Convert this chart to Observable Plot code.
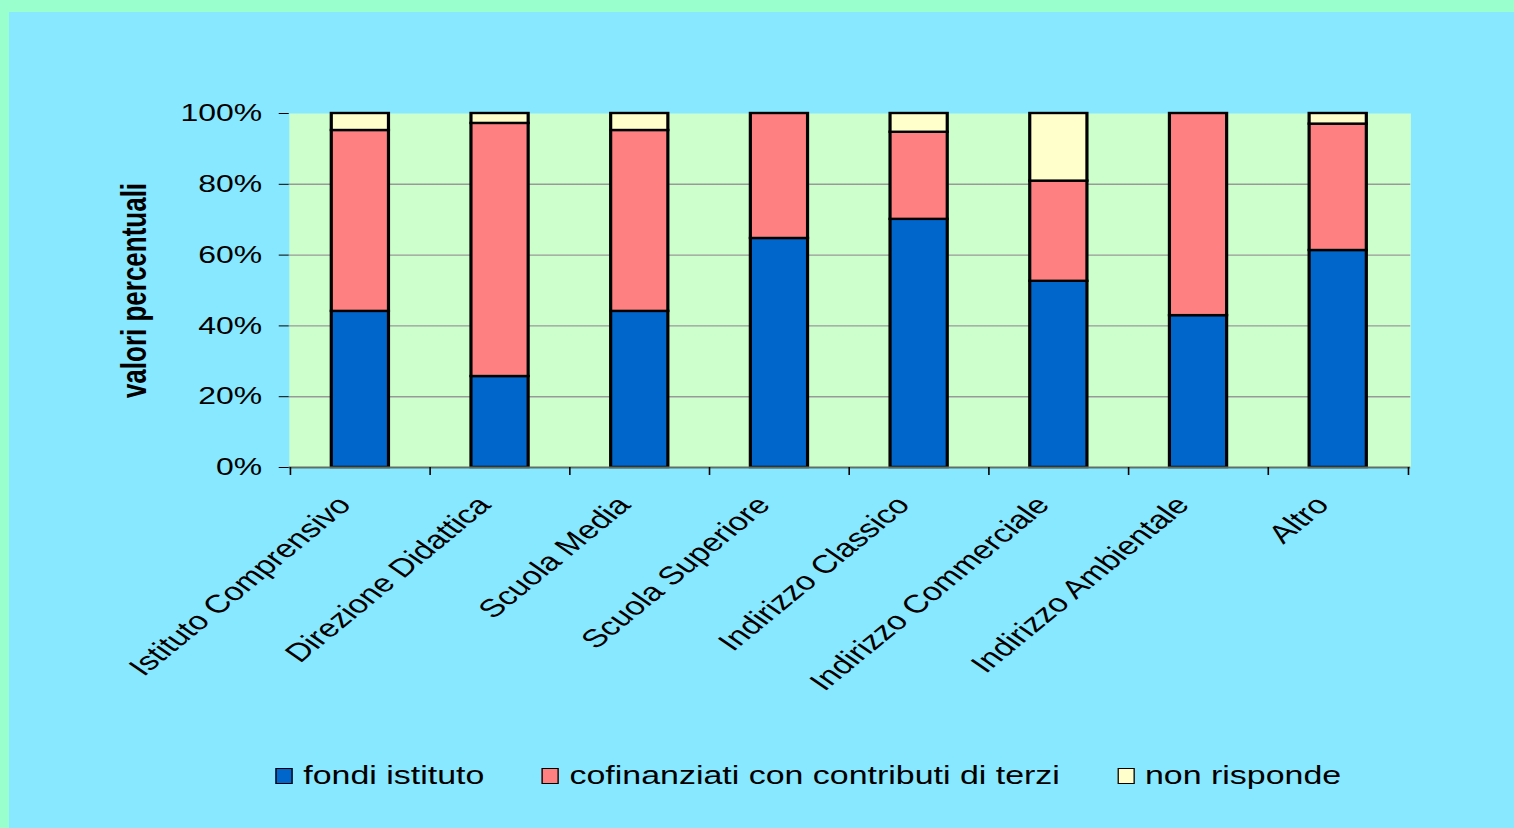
<!DOCTYPE html>
<html><head><meta charset="utf-8">
<script src="https://cdn.jsdelivr.net/npm/d3@7"></script>
<script src="https://cdn.jsdelivr.net/npm/@observablehq/plot@0.6"></script>
<style>
html,body{margin:0;padding:0;background:#99FFCC;width:1514px;height:828px;overflow:hidden;}
#panel{position:absolute;left:9px;top:12px;width:1505px;height:816px;background:#88E8FF;}
#stage{position:absolute;left:0;top:0;width:1138px;height:828px;transform:scaleX(1.3304);transform-origin:0 0;font-family:"Liberation Sans",Arial,sans-serif;}
#chart{position:absolute;left:0;top:0;}
#legend{position:absolute;left:207px;top:761px;display:flex;align-items:center;font-size:25.5px;color:#000;white-space:nowrap;}
.item{display:flex;align-items:center;}
.sw{width:11px;height:14px;border:1.5px solid #000;margin-right:8px;}
</style></head>
<body>
<div id="panel"></div>
<div id="stage"><div id="chart"></div><div id="legend"></div></div>
<script>
const categories = ["Istituto Comprensivo","Direzione Didattica","Scuola Media","Scuola Superiore","Indirizzo Classico","Indirizzo Commerciale","Indirizzo Ambientale","Altro"];
const series = ["fondi istituto","cofinanziati con contributi di terzi","non risponde"];
const fondiIstituto = [44.1, 25.7, 44.1, 64.7, 70.1, 52.6, 42.9, 61.3];
const cofinanziati = [51.1, 71.5, 51.1, 35.3, 24.6, 28.3, 57.1, 35.7];
const nonRisponde = [4.8, 2.8, 4.8, 0, 5.3, 19.1, 0, 3.0];
const yTicks = [0, 20, 40, 60, 80, 100];
const colors = ["#0066CC", "#FF8080", "#FFFFCC"];

const values = [fondiIstituto, cofinanziati, nonRisponde];
const data = [];
series.forEach((s, i) => categories.forEach((c, j) => {
  if (values[i][j] > 0) data.push({categoria: c, serie: s, valore: values[i][j]});
}));

const W = 1138, H = 740, ml = 217, mr = 78, mt = 113, mb = 273;
const step = (W - ml - mr) / categories.length;

const chart = Plot.plot({
  width: W, height: H,
  marginLeft: ml, marginRight: mr, marginTop: mt, marginBottom: mb,
  style: {background: "transparent", fontFamily: "'Liberation Sans', Arial, sans-serif", fontSize: "24px", color: "#000", overflow: "visible"},
  x: {domain: categories, paddingInner: 0.586, paddingOuter: 0.293, label: null},
  y: {domain: [0, 100], label: null},
  color: {domain: series, range: colors},
  marks: [
    Plot.frame({fill: "#CCFFCC", stroke: null}),
    Plot.gridY(yTicks.slice(1, -1), {stroke: "#999999", strokeOpacity: 1, strokeWidth: 1.4}),
    Plot.barY(data, {x: "categoria", y: "valore", fill: "serie", stroke: "#000", strokeWidth: 2.4}),
    Plot.ruleY([0], {stroke: "#5f6f66", strokeWidth: 2}),
    Plot.ruleX(categories, {x: d => d, dx: -step / 2, y1: 0, y2: 0, insetBottom: -8, stroke: "#000", strokeWidth: 1.2}),
    Plot.ruleX(categories.slice(-1), {x: d => d, dx: step / 2, y1: 0, y2: 0, insetBottom: -8, stroke: "#000", strokeWidth: 1.2}),
    Plot.axisY({ticks: yTicks, tickFormat: d => d + "%", tickSize: 7.5, tickPadding: 13, fontSize: 24, line: true,
      label: "valori percentuali", labelAnchor: "center", labelArrow: "none", labelOffset: 126}),
    Plot.axisX({tickRotate: -47.5, tickSize: 0, tickPadding: 33, dx: -12, fontSize: 25.5, label: null})
  ]
});
chart.querySelectorAll("[aria-label='y-axis label'] text, [aria-label='y-axis label']").forEach(e => { e.setAttribute("font-weight", "bold"); e.setAttribute("font-size", "26"); });
document.getElementById("chart").appendChild(chart);

const gaps = [0, 43, 43];
const legend = document.getElementById("legend");
series.forEach((s, i) => {
  const it = document.createElement("div");
  it.className = "item";
  it.style.marginLeft = gaps[i] + "px";
  const sw = document.createElement("div");
  sw.className = "sw";
  sw.style.background = colors[i];
  const t = document.createElement("span");
  t.textContent = s;
  it.appendChild(sw); it.appendChild(t);
  legend.appendChild(it);
});
</script>
</body></html>
